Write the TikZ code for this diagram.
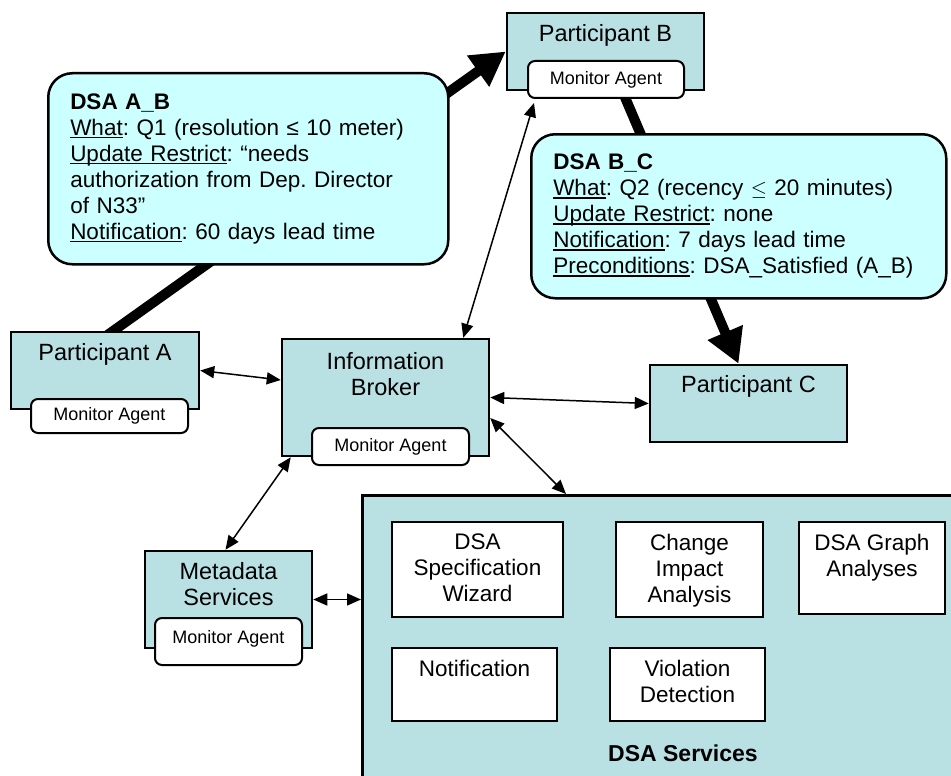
\documentclass[tikz,border=0pt]{standalone}
\usepackage{fontspec}
\setmainfont{Liberation Sans}
\usepackage{tikz}
\usetikzlibrary{arrows.meta}
\usetikzlibrary{backgrounds}
\frenchspacing
\definecolor{partteal}{RGB}{185,224,227}
\definecolor{dsacyan}{RGB}{204,255,255}
\tikzstyle{party}=[rectangle,draw,line width=2.5pt,fill=partteal,inner sep=0pt]
\tikzstyle{monitor}=[rectangle,rounded corners=7pt,draw,line width=2pt,fill=white,inner sep=0pt,font=\fontsize{18}{21}\selectfont]
\tikzstyle{dsa}=[rectangle,rounded corners=24pt,draw,line width=2.5pt,fill=dsacyan,inner ysep=0pt,inner xsep=22pt,align=left,anchor=north west]
\tikzstyle{service}=[rectangle,draw,line width=2.5pt,fill=white,inner sep=0pt]
\tikzstyle{heading}=[anchor=north,inner sep=0pt,align=center,font=\fontsize{23.5}{26}\selectfont]
\tikzstyle{svchead}=[anchor=north,inner sep=0pt,align=center,font=\fontsize{22.5}{26}\selectfont]
\tikzstyle{link}=[draw,line width=1.5pt,{Triangle[length=14pt,width=12pt]}-{Triangle[length=14pt,width=12pt]}]
\tikzstyle{flow}=[draw,line width=10pt,-{Triangle[length=34pt,width=36pt]}]
\newcommand{\dsaul}[1]{\leavevmode\setbox0=\hbox{#1}\rlap{\rule[-3pt]{\wd0}{1.4pt}}\box0}

\begin{document}
\begin{tikzpicture}[x=1pt,y=-1pt,font=\fontsize{22.5}{26}\selectfont]
    \useasboundingbox (0,0) rectangle (951,776);

    % participants
    \node[party,minimum width=188pt,minimum height=77pt,label={[heading,yshift=-13pt]north:Participant A}] (pA) at (105,370.5) {};
    \node[monitor,minimum width=157pt,minimum height=34pt] (mA) at (109.5,416) {Monitor Agent};
    \node[party,minimum width=197pt,minimum height=77pt,label={[heading,yshift=-13pt]north:Participant B}] (pB) at (605.5,51.5) {};
    \node[monitor,minimum width=156pt,minimum height=37pt] (mB) at (606,79.5) {Monitor Agent};
    \node[party,minimum width=197pt,minimum height=77pt,label={[heading,yshift=-12pt]north:Participant C}] (pC) at (748.5,403.5) {};
    \node[party,minimum width=207pt,minimum height=117pt,label={[heading,yshift=-15pt]north:Information\\Broker}] (ib) at (385.5,397.5) {};
    \node[monitor,minimum width=157pt,minimum height=37pt] (mIB) at (390.5,446.5) {Monitor Agent};
    \node[party,minimum width=167pt,minimum height=97pt,label={[heading,yshift=-13pt]north:Metadata\\Services}] (ms) at (228.5,599.5) {};
    \node[monitor,minimum width=147pt,minimum height=47pt,text depth=9pt] (mMS) at (228.5,641.5) {Monitor Agent};

    % DSA services
    \node[party,minimum width=620pt,minimum height=310pt,anchor=north west] (svc) at (361,494) {};
    \foreach \name/\x/\y/\w/\h/\txt in {spec/477.5/569.5/171/95/{DSA\\Specification\\Wizard},
        change/689.5/569.5/147/95/{Change\\Impact\\Analysis},
        graph/872/568/146/92/{DSA Graph\\Analyses},
        notif/474.5/684.5/165/73/{Notification},
        viol/687.5/684.5/155/73/{Violation\\Detection}}
        \node[service,minimum width=\w pt,minimum height=\h pt,label={[svchead,yshift=-13pt]north:\txt}] (\name) at (\x,\y) {};
    \node[font=\fontsize{23}{26}\selectfont\bfseries] (svcname) at (683,753) {DSA Services};

    % agreements
    \node[dsa,text width=356pt,minimum height=191pt] (dsaAB) at (47,72) {\textbf{DSA A\_B}\\
        \dsaul{What}: Q1 (resolution ≤ 10 meter)\\
        \dsaul{Update Restrict}: “needs\\
        authorization from Dep. Director\\
        of N33”\\
        \dsaul{Notification}: 60 days lead time};
    \node[dsa,text width=371pt,minimum height=164pt] (dsaBC) at (530,133) {\textbf{DSA B\_C}\\
        \dsaul{What}: Q2 (recency $\leq$ 20 minutes)\\
        \dsaul{Update Restrict}: none\\
        \dsaul{Notification}: 7 days lead time\\
        \dsaul{Preconditions}: DSA\_Satisfied (A\_B)};

    \begin{pgfonlayer}{background}
    \path[flow] ([yshift=-6pt]pA.north) -- (pB.west);
    \path[flow] (pB.center) -- ([xshift=-10pt]pC.north);
    \end{pgfonlayer}

    \path[link] (pA.east) -- ([yshift=17.5pt]ib.west);
    \path[link] ([xshift=-27pt]ib.north east) -- ([xshift=7pt,yshift=-4pt]mB.south west);
    \path[link] (ib.east) -- (pC.west);
    \path[link] ([yshift=-20.5pt]ib.east) -- ([xshift=205pt]svc.north west);
    \path[link] ([xshift=10pt]ib.south west) -- ([xshift=-3pt]ms.north);
    \path[link] (ms.east) -- (ms.east -| svc.west);
\end{tikzpicture}
\end{document}
